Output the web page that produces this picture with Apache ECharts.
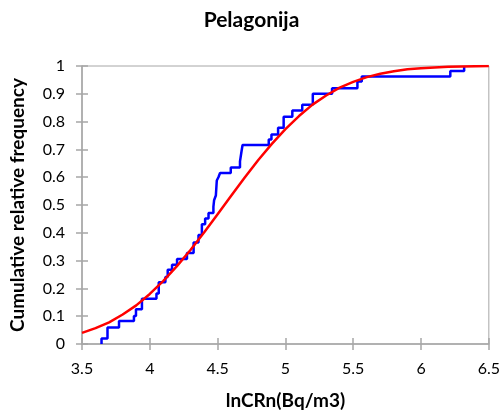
<!DOCTYPE html>
<html>
<head>
<meta charset="utf-8">
<script src="https://cdn.jsdelivr.net/npm/echarts@6/dist/echarts.min.js"></script>
<style>html,body{margin:0;padding:0;background:#fff}#c{width:503px;height:415px}</style>
</head>
<body>
<div id="c"></div>
<script>
// Empirical cumulative distribution (step points): lnCRn values and cumulative frequencies
var ecdfX = [3.644, 3.644, 3.688, 3.773, 3.883, 3.898, 3.942, 4.049, 4.066, 4.115, 4.132, 4.164, 4.201, 4.274, 4.323, 4.359, 4.384, 4.408, 4.433, 4.469, 4.474, 4.487, 4.494, 4.506, 4.518, 4.597, 4.665, 4.677, 4.684, 4.877, 4.897, 4.946, 4.987, 5.051, 5.124, 5.202, 5.344, 5.531, 5.563, 6.216, 6.318];
var ecdfY = [0, 0.020, 0.059, 0.083, 0.101, 0.125, 0.163, 0.182, 0.222, 0.241, 0.267, 0.285, 0.306, 0.327, 0.365, 0.392, 0.431, 0.451, 0.471, 0.493, 0.517, 0.534, 0.588, 0.600, 0.615, 0.635, 0.657, 0.695, 0.716, 0.736, 0.754, 0.778, 0.817, 0.840, 0.861, 0.900, 0.920, 0.944, 0.962, 0.982, 1.0];
// Fitted cumulative curve
var fitX = [3.5, 3.6, 3.7, 3.8, 3.9, 4.0, 4.1, 4.2, 4.3, 4.4, 4.5, 4.6, 4.7, 4.8, 4.9, 5.0, 5.1, 5.2, 5.3, 5.4, 5.5, 5.6, 5.7, 5.8, 5.9, 6.0, 6.1, 6.2, 6.3, 6.4, 6.5];
var fitY = [0.040, 0.057, 0.078, 0.106, 0.139, 0.180, 0.227, 0.280, 0.338, 0.401, 0.467, 0.533, 0.599, 0.662, 0.720, 0.773, 0.820, 0.861, 0.894, 0.922, 0.943, 0.960, 0.972, 0.981, 0.988, 0.992, 0.995, 0.997, 0.998, 0.999, 1.0];
var xTicks = ['3.5', '4', '4.5', '5', '5.5', '6', '6.5'];
var yTicks = ['0', '0.1', '0.2', '0.3', '0.4', '0.5', '0.6', '0.7', '0.8', '0.9', '1'];

var chart = echarts.init(document.getElementById('c'), null, {renderer: 'canvas'});
var font = 'Lato, "Open Sans", sans-serif';
var gray = '#a6a6a6';
function pairs(xs, ys) { return xs.map(function (x, i) { return [x, ys[i]]; }); }
chart.setOption({
  animation: false,
  backgroundColor: '#fff',
  title: {
    text: 'Pelagonija', left: 'center', top: 5,
    textStyle: {fontFamily: font, fontWeight: 'bold', fontSize: 21, color: '#000'}
  },
  grid: {left: 81, right: 13, top: 66, bottom: 68, show: true, borderColor: gray, borderWidth: 1},
  xAxis: [{
    type: 'value', min: 3.5, max: 6.5, interval: 0.5,
    name: 'lnCRn(Bq/m3)', nameLocation: 'middle', nameGap: 47,
    nameTextStyle: {fontFamily: font, fontWeight: 'bold', fontSize: 19, color: '#000'},
    axisLine: {show: true, lineStyle: {color: gray, width: 1.5}},
    axisTick: {show: true, length: 6, lineStyle: {color: gray, width: 1.5}},
    axisLabel: {fontFamily: font, fontSize: 16, color: '#000', margin: 17,
      formatter: function (v) { var s = String(+v.toFixed(1)); return xTicks.indexOf(s) >= 0 ? s : ''; }},
    splitLine: {show: false}
  }, {
    type: 'value', min: 3.5, max: 6.5, interval: 0.5, position: 'bottom',
    axisLine: {show: false}, axisLabel: {show: false}, splitLine: {show: false},
    axisTick: {show: true, inside: true, length: 6, lineStyle: {color: gray, width: 1.5}}
  }],
  yAxis: [{
    type: 'value', min: 0, max: 1, interval: 0.1,
    name: 'Cumulative relative frequency', nameLocation: 'middle', nameGap: 55, nameRotate: 90,
    nameTextStyle: {fontFamily: font, fontWeight: 'bold', fontSize: 19, color: '#000'},
    axisLine: {show: true, lineStyle: {color: gray, width: 1.5}},
    axisTick: {show: true, length: 6, lineStyle: {color: gray, width: 1.5}},
    axisLabel: {fontFamily: font, fontSize: 16, color: '#000', margin: 17,
      formatter: function (v) { var s = String(+v.toFixed(1)); return yTicks.indexOf(s) >= 0 ? s : ''; }},
    splitLine: {show: false}
  }, {
    type: 'value', min: 0, max: 1, interval: 0.1, position: 'left',
    axisLine: {show: false}, axisLabel: {show: false}, splitLine: {show: false},
    axisTick: {show: true, inside: true, length: 6, lineStyle: {color: gray, width: 1.5}}
  }],
  series: [{
    type: 'line', step: 'end', data: pairs(ecdfX, ecdfY), symbol: 'none',
    lineStyle: {color: '#0000ff', width: 2.5}, z: 2
  }, {
    type: 'line', smooth: false, data: pairs(fitX, fitY), symbol: 'none',
    lineStyle: {color: '#ff0000', width: 2.5, join: 'round'}, z: 3
  }]
});
</script>
</body>
</html>
